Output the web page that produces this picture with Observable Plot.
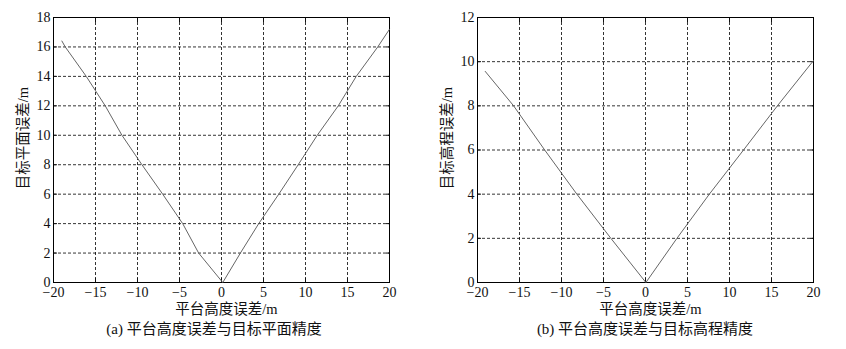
<!DOCTYPE html>
<html><head><meta charset="utf-8">
<script src="https://cdn.jsdelivr.net/npm/d3@7"></script>
<script src="https://cdn.jsdelivr.net/npm/@observablehq/plot@0.6"></script>
<style>
body{margin:0;background:#fff;}
#wrap{position:relative;width:846px;height:349px;font-family:"Liberation Serif","Times New Roman","Noto Sans CJK SC",serif;}
.panel{position:absolute;top:0;width:423px;height:349px;}
.panel svg text{font-family:"Liberation Serif","Times New Roman","Noto Sans CJK SC",serif;}
.panel svg g[aria-label$="tick label"]{font-size:14px;}
.cap{position:absolute;top:319px;font-size:15px;line-height:20px;color:#111;white-space:nowrap;transform:translateX(-50%);}
</style></head>
<body><div id="wrap"></div>
<script>
const xTicks = [-20,-15,-10,-5,0,5,10,15,20];
const yTicksA = [0,2,4,6,8,10,12,14,16,18];
const yTicksB = [0,2,4,6,8,10,12];
const xLabel = "平台高度误差/m";
const yLabelA = "目标平面误差/m";
const yLabelB = "目标高程误差/m";
const captionA = "(a) 平台高度误差与目标平面精度";
const captionB = "(b) 平台高度误差与目标高程精度";
const aX = [-19, -18.6, -16.1, -13.84, -11.85, -9.47, -7, -4.62, -2.72, 0.15, 2.25, 4.43, 6.82, 9.13, 11.4, 13.9, 16.04, 18.6, 20];
const aY = [16.4, 16, 14, 12, 10, 8, 6, 4, 2, 0, 2, 4, 6, 8, 10, 12, 14, 16, 17.2];
const bX = [-19.08, -15.7, -12.0, -8.17, -4.12, 0.05, 3.74, 7.6, 11.67, 15.7, 20];
const bY = [9.56, 8, 6, 4, 2, 0, 2, 4, 6, 8, 10.05];

const FONT = '"Liberation Serif","Times New Roman","Noto Sans CJK SC",serif';

function makeChart(xs, ys, yTicks, yLabel, ml, mr) {
  const data = xs.map((x, i) => ({x, y: ys[i]}));
  const yMax = yTicks[yTicks.length - 1];
  const blank = () => "";
  return Plot.plot({
    width: 423, height: 320,
    marginLeft: ml, marginRight: mr, marginTop: 17, marginBottom: 38,
    style: {fontFamily: FONT, fontSize: "13px", color: "#111", background: "#fff"},
    x: {domain: [-20, 20]},
    y: {domain: [0, yMax]},
    marks: [
      Plot.gridX(xTicks.slice(1, -1), {stroke: "#000", strokeOpacity: 1, strokeDasharray: "3,2", strokeWidth: 0.8}),
      Plot.gridY(yTicks.slice(1, -1), {stroke: "#000", strokeOpacity: 1, strokeDasharray: "3,2", strokeWidth: 0.8}),
      Plot.axisX(xTicks, {anchor: "top", tickSize: -4, tickFormat: blank, label: null}),
      Plot.axisY(yTicks, {anchor: "right", tickSize: -4, tickFormat: blank, label: null}),
      Plot.axisX(xTicks, {anchor: "bottom", tickSize: -4, tickPadding: 9, label: null}),
      Plot.axisY(yTicks, {anchor: "left", tickSize: -4, tickPadding: 7, label: null}),
      Plot.text([xLabel], {text: d => d, frameAnchor: "bottom", dx: 5, dy: 27, lineAnchor: "middle", fontSize: 14.5, fontFamily: FONT, fill: "#111"}),
      Plot.text([yLabel], {text: d => d, frameAnchor: "left", rotate: -90, textAnchor: "middle", dx: -36, dy: -12, lineAnchor: "top", fontSize: 14.5, fontFamily: FONT, fill: "#111"}),
      Plot.frame({stroke: "#000", strokeWidth: 1}),
      Plot.line(data, {x: "x", y: "y", stroke: "#666", strokeWidth: 1})
    ]
  });
}

const wrap = document.getElementById("wrap");
const pa = document.createElement("div"); pa.className = "panel"; pa.style.left = "0px";
pa.appendChild(makeChart(aX, aY, yTicksA, yLabelA, 53, 34));
const pb = document.createElement("div"); pb.className = "panel"; pb.style.left = "423px";
pb.appendChild(makeChart(bX, bY, yTicksB, yLabelB, 54, 33));
wrap.appendChild(pa); wrap.appendChild(pb);
const ca = document.createElement("div"); ca.className = "cap"; ca.style.left = "214px"; ca.textContent = captionA;
const cb = document.createElement("div"); cb.className = "cap"; cb.style.left = "645px"; cb.textContent = captionB;
wrap.appendChild(ca); wrap.appendChild(cb);
</script></body></html>
